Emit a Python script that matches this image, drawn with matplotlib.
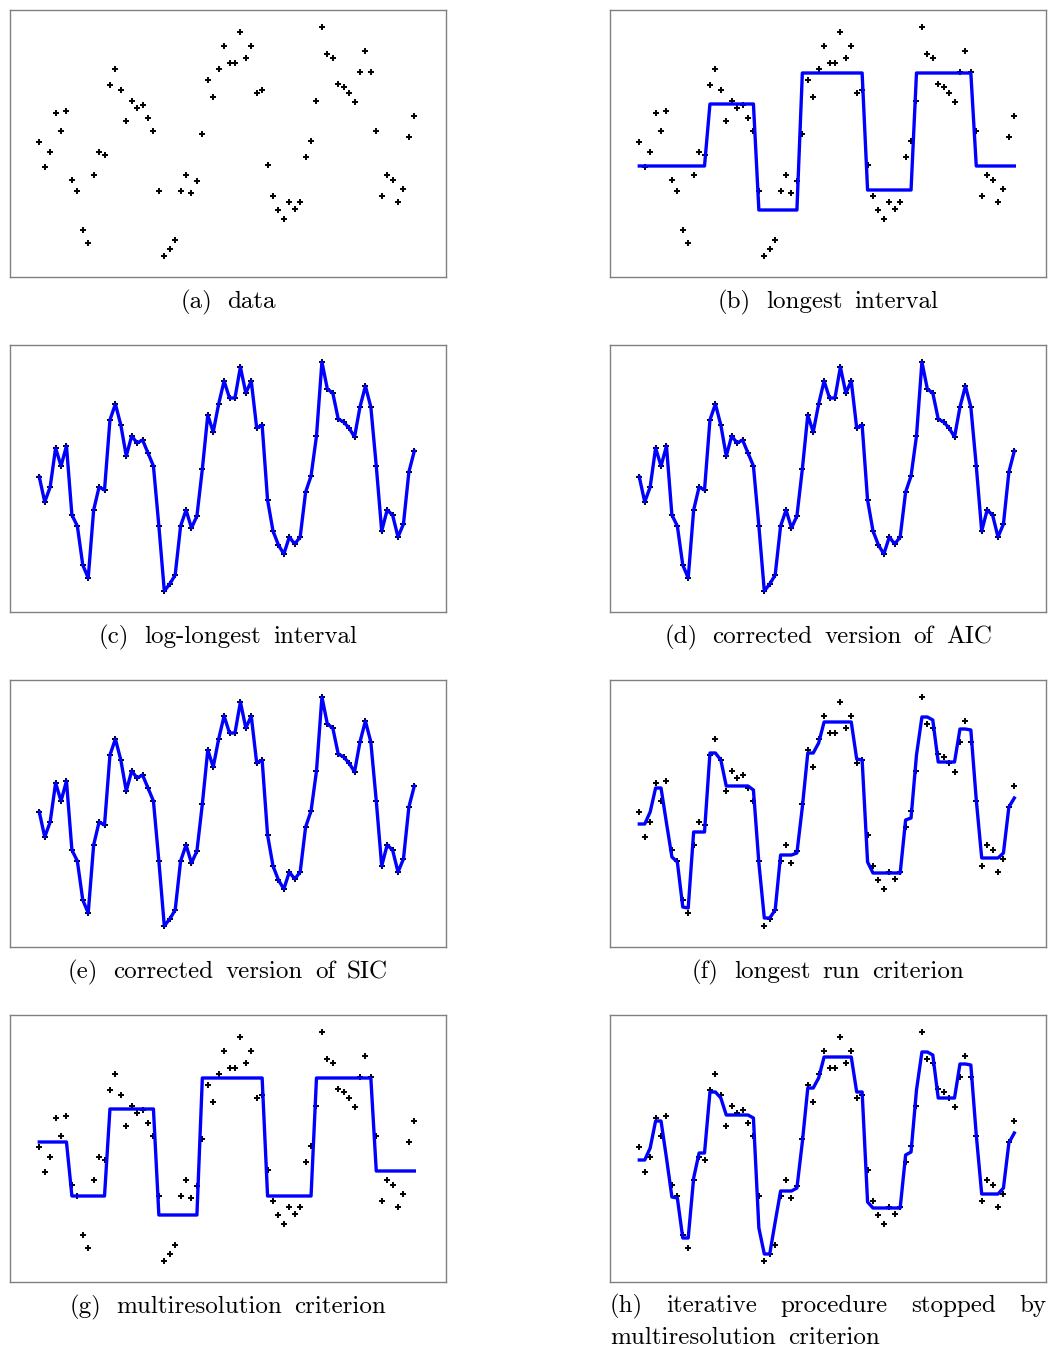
import numpy as np
import matplotlib.pyplot as plt

# observations (70 equally spaced design points)
y_data = [1.35, 1.10, 1.25, 1.64, 1.46, 1.66, 0.97, 0.86, 0.47, 0.34,
          1.02, 1.25, 1.22, 1.92, 2.08, 1.87, 1.56, 1.76, 1.69, 1.72,
          1.59, 1.46, 0.86, 0.21, 0.28, 0.37, 0.86, 1.02, 0.84, 0.96,
          1.43, 1.97, 1.80, 2.08, 2.31, 2.14, 2.14, 2.45, 2.19, 2.31,
          1.84, 1.87, 1.12, 0.81, 0.67, 0.58, 0.75, 0.68, 0.75, 1.20,
          1.36, 1.76, 2.50, 2.23, 2.19, 1.93, 1.90, 1.84, 1.75, 2.05,
          2.26, 2.05, 1.46, 0.81, 1.02, 0.97, 0.75, 0.88, 1.40, 1.61]
x = np.arange(1, len(y_data) + 1)

# (b) longest interval: levels and run lengths
b_levels = [1.11, 1.73, 0.67, 2.04, 0.87, 2.04, 1.11]
b_runs = [13, 9, 8, 12, 9, 11, 8]

# (g) multiresolution criterion
g_levels = [1.40, 0.86, 1.73, 0.67, 2.04, 0.86, 2.04, 1.11]
g_runs = [6, 7, 9, 8, 12, 9, 11, 8]

# (f) longest run criterion
fit_f = [1.23, 1.23, 1.35, 1.59, 1.59, 1.24, 0.90, 0.85, 0.40, 0.39,
         1.15, 1.15, 1.15, 1.94, 1.94, 1.87, 1.61, 1.61, 1.61, 1.61,
         1.61, 1.57, 0.84, 0.29, 0.29, 0.37, 0.92, 0.92, 0.92, 0.94,
         1.40, 1.94, 1.94, 2.04, 2.25, 2.25, 2.25, 2.25, 2.25, 2.25,
         1.88, 1.87, 0.85, 0.74, 0.74, 0.74, 0.74, 0.74, 0.74, 1.27,
         1.29, 1.92, 2.30, 2.30, 2.27, 1.85, 1.85, 1.85, 1.85, 2.18,
         2.18, 2.17, 1.47, 0.89, 0.89, 0.89, 0.89, 0.94, 1.40, 1.49]

# (h) iterative procedure
fit_h = [1.22, 1.22, 1.34, 1.61, 1.61, 1.24, 0.85, 0.84, 0.44, 0.44,
         1.04, 1.29, 1.29, 1.90, 1.90, 1.84, 1.67, 1.67, 1.67, 1.67,
         1.67, 1.64, 0.54, 0.28, 0.28, 0.60, 0.91, 0.91, 0.91, 0.94,
         1.40, 1.94, 1.94, 2.04, 2.25, 2.25, 2.25, 2.25, 2.25, 2.25,
         1.90, 1.90, 0.80, 0.74, 0.74, 0.74, 0.74, 0.74, 0.74, 1.27,
         1.30, 1.92, 2.30, 2.30, 2.27, 1.84, 1.84, 1.84, 1.84, 2.18,
         2.18, 2.17, 1.47, 0.88, 0.88, 0.88, 0.88, 0.94, 1.39, 1.49]

fit_b = np.repeat(b_levels, b_runs)
fit_g = np.repeat(g_levels, g_runs)

captions = ['(a) data', '(b) longest interval', '(c) log-longest interval',
            '(d) corrected version of AIC', '(e) corrected version of SIC',
            '(f) longest run criterion', '(g) multiresolution criterion', None]
fits = [None, fit_b, y_data, y_data, y_data, fit_f, fit_g, fit_h]

W, H = 1055, 1351
fig = plt.figure(figsize=(W / 100, H / 100), dpi=100)
cfont = dict(family='cmr10', size=18)
r = fig.canvas.get_renderer()


def put_words(words, x0, ypx, gaps, center=False):
    # place words one by one so that the gaps (in pixels) can be set
    ts = [fig.text(0, 1 - ypx / H, w, ha='left', va='center', **cfont) for w in words]
    ws = [t.get_window_extent(r).width for t in ts]
    total = sum(ws) + sum(gaps)
    xp = x0 - total / 2 if center else x0
    for i, (t, w) in enumerate(zip(ts, ws)):
        t.set_x(xp / W)
        if i < len(gaps):
            xp += w + gaps[i]


lefts = [10, 610]
tops = [10, 345, 680, 1015]
for k in range(8):
    l = lefts[k % 2]
    t = tops[k // 2]
    ax = fig.add_axes([l / W, 1 - (t + 267) / H, 436 / W, 267 / H])
    ax.plot(x, y_data, '+', color='k', ms=4.5, mew=1.4, zorder=2)
    if fits[k] is not None:
        ax.plot(x, fits[k], '-', color='#0000ff', lw=2.4, zorder=3)
    ax.set_xlim(-4.39, 75.83)
    ax.set_ylim(0, 2.67)
    ax.set_xticks([])
    ax.set_yticks([])
    for s in ax.spines.values():
        s.set_color('#808080')
        s.set_linewidth(1.0)
    if captions[k] is not None:
        ws = captions[k].split(' ')
        put_words(ws, l + 218, t + 292, [15] + [12] * (len(ws) - 2), center=True)

# (h) caption: justified first line, ragged second line
words = ['(h)', 'iterative', 'procedure', 'stopped', 'by']
texts = [fig.text(0, 1 - 1306 / H, w, ha='left', va='center', **cfont) for w in words]
widths = [t.get_window_extent(r).width for t in texts]
gap = (436 - sum(widths)) / (len(words) - 1)
xpos = 610
for t, w in zip(texts, widths):
    t.set_x(xpos / W)
    xpos += w + gap
put_words(['multiresolution', 'criterion'], 610, 1338, [12])

plt.savefig('out.png', dpi=100)
